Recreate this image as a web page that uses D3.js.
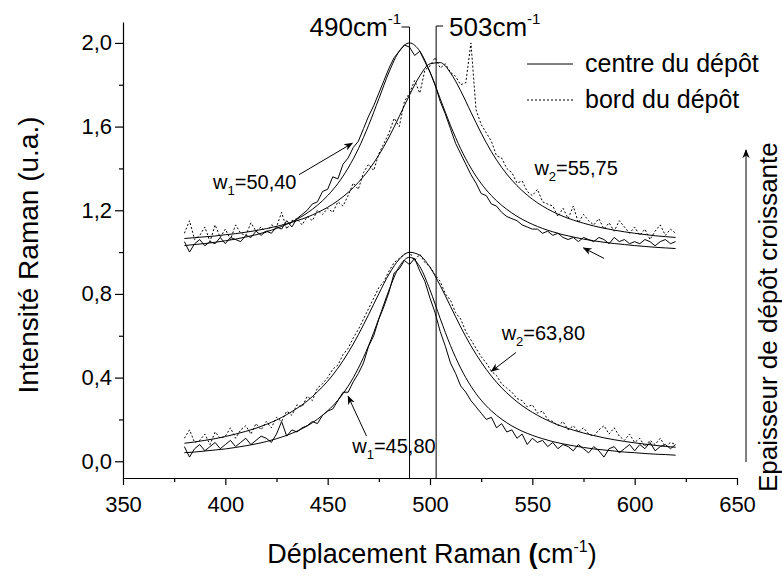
<!DOCTYPE html>
<html><head><meta charset="utf-8">
<script src="https://cdn.jsdelivr.net/npm/d3@7"></script>
<style>
body{margin:0;background:#fff}
text{font-family:Arial,"Liberation Sans",sans-serif;fill:#000}
</style>
</head><body>
<svg id="c" width="782" height="580"></svg>
<script>
// ---------- data ----------
const xTicks = [350, 400, 450, 500, 550, 600, 650];
const xMinorTicks = [375, 425, 475, 525, 575, 625];
const yTicks = [0, 0.4, 0.8, 1.2, 1.6, 2.0];
const yTickLabels = ["0,0", "0,4", "0,8", "1,2", "1,6", "2,0"];
const yMinorTicks = [0.2, 0.6, 1.0, 1.4, 1.8];
const peakCentre = 490, peakBord = 503;

const fitStart = 380, fitStep = 5;
const rawStart = 380, rawStep = 2.5;

const upperCentreFit = [1.031,1.036,1.041,1.047,1.054,1.062,1.072,1.083,1.097,1.113,1.133,1.157,1.187,1.224,1.270,1.328,1.402,1.494,1.606,1.733,1.861,1.961,2.000,1.961,1.861,1.733,1.606,1.494,1.402,1.328,1.270,1.224,1.187,1.157,1.133,1.113,1.097,1.083,1.072,1.062,1.054,1.047,1.041,1.036,1.031,1.027,1.023,1.020,1.017];
const upperBordFit = [1.065,1.069,1.073,1.077,1.083,1.088,1.095,1.103,1.112,1.123,1.135,1.150,1.167,1.189,1.214,1.246,1.285,1.333,1.392,1.464,1.550,1.649,1.751,1.842,1.900,1.906,1.857,1.771,1.669,1.569,1.480,1.405,1.344,1.294,1.253,1.220,1.193,1.171,1.153,1.138,1.125,1.114,1.105,1.097,1.090,1.084,1.078,1.074,1.070];
const lowerCentreFit = [0.041,0.044,0.049,0.054,0.059,0.066,0.074,0.083,0.094,0.108,0.124,0.144,0.169,0.201,0.241,0.292,0.359,0.445,0.553,0.682,0.819,0.931,0.975,0.931,0.819,0.682,0.553,0.445,0.359,0.292,0.241,0.201,0.169,0.144,0.124,0.108,0.094,0.083,0.074,0.066,0.059,0.054,0.049,0.044,0.041,0.037,0.034,0.032,0.029];
const lowerBordFit = [0.086,0.092,0.100,0.108,0.118,0.130,0.143,0.158,0.176,0.197,0.223,0.253,0.288,0.332,0.383,0.445,0.519,0.605,0.701,0.801,0.895,0.966,0.999,0.985,0.927,0.840,0.741,0.642,0.552,0.474,0.407,0.351,0.305,0.266,0.234,0.207,0.184,0.165,0.149,0.135,0.123,0.112,0.103,0.095,0.088,0.082,0.076,0.071,0.067];

const upperCentreRaw = [
 1.05,1.00,1.04,1.06,1.03,1.05,1.04,1.07,
 1.04,1.07,1.06,1.05,1.08,1.07,1.10,1.08,
 1.10,1.09,1.12,1.11,1.15,1.12,1.16,1.18,
 1.20,1.23,1.24,1.29,1.30,1.36,1.35,1.42,
 1.45,1.50,1.53,1.59,1.65,1.70,1.76,1.82,
 1.88,1.93,1.96,1.99,1.98,1.94,1.96,1.91,
 1.86,1.80,1.72,1.66,1.59,1.52,1.47,1.42,
 1.37,1.33,1.28,1.27,1.23,1.22,1.19,1.17,
 1.16,1.15,1.13,1.12,1.11,1.11,1.09,1.10,
 1.08,1.09,1.07,1.06,1.07,1.05,1.07,1.06,
 1.05,1.07,1.06,1.04,1.07,1.05,1.06,1.04,
 1.05,1.04,1.06,1.05,1.03,1.05,1.06,1.04,
 1.05];
const upperBordRaw = [
 1.09,1.15,1.06,1.08,1.12,1.05,1.13,1.07,
 1.11,1.06,1.13,1.09,1.08,1.14,1.10,1.12,
 1.09,1.13,1.12,1.19,1.11,1.15,1.16,1.13,
 1.17,1.15,1.20,1.18,1.21,1.19,1.24,1.22,
 1.27,1.33,1.30,1.38,1.42,1.39,1.47,1.52,
 1.57,1.64,1.60,1.72,1.76,1.82,1.76,1.87,
 1.89,1.93,1.88,1.90,1.86,1.84,1.80,1.81,
 2.00,1.68,1.61,1.57,1.53,1.46,1.45,1.40,
 1.38,1.33,1.34,1.29,1.27,1.30,1.24,1.23,
 1.22,1.17,1.21,1.16,1.22,1.14,1.18,1.15,
 1.13,1.16,1.11,1.14,1.10,1.15,1.12,1.09,
 1.12,1.08,1.11,1.06,1.10,1.13,1.08,1.11,
 1.09];
const lowerCentreRaw = [
 0.07,0.02,0.06,0.08,0.05,0.07,0.09,0.06,
 0.08,0.10,0.07,0.09,0.11,0.08,0.10,0.12,
 0.11,0.09,0.13,0.19,0.12,0.15,0.14,0.16,
 0.17,0.19,0.18,0.22,0.24,0.25,0.29,0.33,
 0.33,0.38,0.42,0.47,0.55,0.60,0.68,0.74,
 0.81,0.90,0.92,0.96,0.94,0.97,0.91,0.86,
 0.78,0.71,0.62,0.55,0.47,0.42,0.36,0.33,
 0.29,0.26,0.23,0.20,0.21,0.16,0.18,0.14,
 0.15,0.11,0.13,0.08,0.11,0.09,0.10,0.07,
 0.09,0.06,0.08,0.07,0.05,0.08,0.06,0.04,
 0.07,0.05,0.02,0.06,0.07,0.04,0.06,0.08,
 0.05,0.08,0.06,0.09,0.05,0.07,0.08,0.06,
 0.08];
const lowerBordRaw = [
 0.11,0.15,0.09,0.10,0.13,0.08,0.14,0.11,
 0.12,0.16,0.11,0.15,0.17,0.13,0.18,0.15,
 0.19,0.16,0.21,0.19,0.24,0.22,0.27,0.26,
 0.31,0.29,0.35,0.37,0.40,0.44,0.46,0.51,
 0.54,0.59,0.63,0.68,0.73,0.78,0.83,0.86,
 0.91,0.95,0.97,0.99,1.00,0.96,0.99,0.95,
 0.93,0.89,0.86,0.80,0.77,0.71,0.68,0.62,
 0.58,0.54,0.50,0.47,0.43,0.41,0.37,0.35,
 0.33,0.30,0.29,0.26,0.27,0.23,0.24,0.20,
 0.19,0.17,0.19,0.15,0.17,0.14,0.16,0.13,
 0.12,0.15,0.17,0.13,0.16,0.12,0.10,0.13,
 0.09,0.11,0.07,0.10,0.08,0.11,0.07,0.09,
 0.08];

// ---------- drawing ----------
const svg = d3.select("#c");
const x = d3.scaleLinear().domain([350, 650]).range([123, 737]);
const y = d3.scaleLinear().domain([-0.08, 2.1]).range([478, 22]);

svg.append("defs").append("marker")
  .attr("id", "ah").attr("viewBox", "0 0 10 10").attr("refX", 9).attr("refY", 5)
  .attr("markerWidth", 9).attr("markerHeight", 9).attr("orient", "auto")
  .append("path").attr("d", "M0,1 L10,5 L0,9 L3,5 Z").attr("fill", "#000");

// axes
svg.append("g").attr("transform", "translate(0,478)")
  .call(d3.axisBottom(x).tickValues(xTicks).tickSize(7).tickSizeOuter(0).tickPadding(11).tickFormat(d3.format("d")));
svg.append("g").attr("transform", "translate(0,478)")
  .call(d3.axisBottom(x).tickValues(xMinorTicks).tickSize(4).tickFormat(""))
  .select(".domain").remove();
svg.append("g").attr("transform", "translate(123,0)")
  .call(d3.axisLeft(y).tickValues(yTicks).tickSize(8).tickSizeOuter(0).tickPadding(3).tickFormat((d, i) => yTickLabels[i]));
svg.append("g").attr("transform", "translate(123,0)")
  .call(d3.axisLeft(y).tickValues(yMinorTicks).tickSize(4).tickFormat(""))
  .select(".domain").remove();
svg.selectAll(".tick text").attr("font-size", 22).attr("font-family", "Arial, 'Liberation Sans', sans-serif");
svg.selectAll(".domain, .tick line").attr("stroke", "#000").attr("stroke-width", 1.2);

// axis titles
const xt = svg.append("text").attr("x", 432).attr("y", 563).attr("text-anchor", "middle").attr("font-size", 27);
xt.append("tspan").text("Déplacement Raman ");
xt.append("tspan").attr("font-weight", "bold").text("(");
xt.append("tspan").text("cm");
xt.append("tspan").attr("font-size", 16).attr("dy", -11).text("-1");
xt.append("tspan").attr("dy", 11).text(")");

svg.append("text").attr("transform", "translate(38,255) rotate(-90)")
  .attr("text-anchor", "middle").attr("font-size", 28).text("Intensité Raman (u.a.)");

// series
const fitLine = d3.line().x((d, i) => x(fitStart + i * fitStep)).y(d => y(d)).curve(d3.curveMonotoneX);
const rawLine = d3.line().x((d, i) => x(rawStart + i * rawStep)).y(d => y(d));

const series = [
  {v: upperCentreRaw, line: rawLine, dash: null},
  {v: lowerCentreRaw, line: rawLine, dash: null},
  {v: upperBordRaw, line: rawLine, dash: "2,2"},
  {v: lowerBordRaw, line: rawLine, dash: "2,2"},
  {v: upperCentreFit, line: fitLine, dash: null},
  {v: upperBordFit, line: fitLine, dash: null},
  {v: lowerCentreFit, line: fitLine, dash: null},
  {v: lowerBordFit, line: fitLine, dash: null}
];
series.forEach(s => {
  svg.append("path").datum(s.v).attr("d", s.line).attr("fill", "none")
    .attr("stroke", "#000").attr("stroke-width", 1)
    .attr("stroke-dasharray", s.dash);
});

// peak position markers
svg.append("path").attr("fill", "none").attr("stroke", "#000").attr("stroke-width", 1)
  .attr("d", `M${x(peakCentre) - 8},27 H${x(peakCentre)} V478`);
svg.append("path").attr("fill", "none").attr("stroke", "#000").attr("stroke-width", 1)
  .attr("d", `M${x(peakBord) + 7},26 H${x(peakBord)} V478`);

function cmLabel(px, py, anchor, num) {
  const t = svg.append("text").attr("x", px).attr("y", py).attr("text-anchor", anchor).attr("font-size", 26);
  t.append("tspan").text(num + "cm");
  t.append("tspan").attr("font-size", 15).attr("dy", -12).text("-1");
  return t;
}
cmLabel(401, 36, "end", peakCentre);
cmLabel(449, 36, "start", peakBord);

// legend
svg.append("line").attr("x1", 527).attr("x2", 573).attr("y1", 64).attr("y2", 64).attr("stroke", "#000");
svg.append("line").attr("x1", 527).attr("x2", 573).attr("y1", 100).attr("y2", 100).attr("stroke", "#000").attr("stroke-dasharray", "2,2");
svg.append("text").attr("x", 585).attr("y", 72).attr("font-size", 25).text("centre du dépôt");
svg.append("text").attr("x", 585).attr("y", 108).attr("font-size", 25).text("bord du dépôt");

// width annotations
function wLabel(dx, dv, sub, val) {
  const t = svg.append("text").attr("x", x(dx)).attr("y", y(dv)).attr("font-size", 20);
  t.append("tspan").text("w");
  t.append("tspan").attr("font-size", 13).attr("dy", 6).text(sub);
  t.append("tspan").attr("dy", -6).text("=" + val);
}
function arrow(x1, v1, x2, v2) {
  svg.append("line").attr("x1", x(x1)).attr("y1", y(v1)).attr("x2", x(x2)).attr("y2", y(v2))
    .attr("stroke", "#000").attr("stroke-width", 1).attr("marker-end", "url(#ah)");
}
wLabel(394, 1.30, "1", "50,40");
arrow(436, 1.37, 462, 1.52);
wLabel(551, 1.37, "2", "55,75");
arrow(585, 0.97, 575, 1.02);
wLabel(535, 0.58, "2", "63,80");
arrow(542, 0.52, 530, 0.43);
wLabel(462, 0.04, "1", "45,80");
arrow(469, 0.12, 460, 0.31);

// thickness arrow and label
svg.append("line").attr("x1", 746).attr("x2", 746).attr("y1", 462).attr("y2", 150)
  .attr("stroke", "#000").attr("stroke-width", 1).attr("marker-end", "url(#ah)");
svg.append("text").attr("transform", "translate(777,492) rotate(-90)")
  .attr("font-size", 26).text("Epaisseur de dépôt croissante");
</script>
</body></html>
